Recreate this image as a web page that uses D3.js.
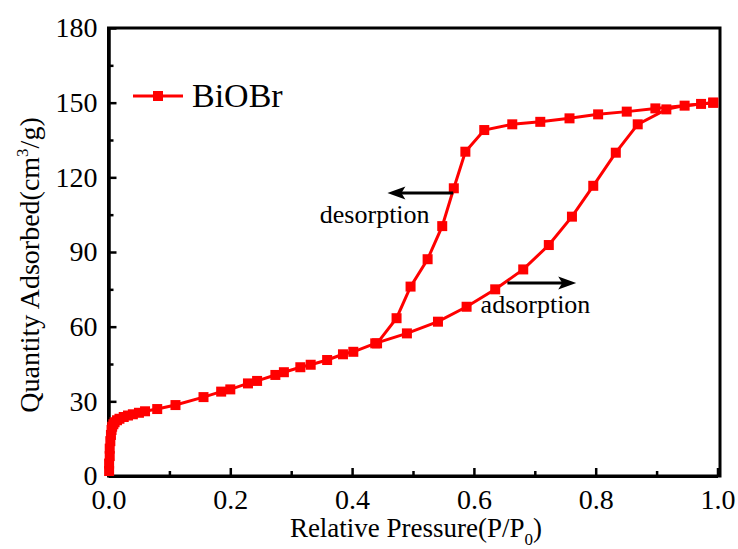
<!DOCTYPE html>
<html>
<head>
<meta charset="utf-8">
<script src="https://cdn.jsdelivr.net/npm/d3@7"></script>
<style>
body { margin: 0; background: #fff; }
text { font-family: "Liberation Serif", "Times New Roman", serif; fill: #000; }
</style>
</head>
<body>
<div id="chart-area"></div>
<script>
// adsorption branch (relative pressure, quantity adsorbed)
var adsP = [0.001, 0.001, 0.002, 0.002, 0.003, 0.004, 0.005, 0.006, 0.008, 0.010, 0.014, 0.018, 0.025, 0.032, 0.040, 0.050, 0.060, 0.080, 0.110,
	0.156, 0.185, 0.200, 0.229, 0.244, 0.274, 0.288, 0.315, 0.332, 0.359, 0.385, 0.402, 0.438,
	0.490, 0.541, 0.588, 0.635, 0.681, 0.723, 0.761, 0.796, 0.833, 0.869, 0.916, 0.946, 0.973, 0.993];
var adsV = [2, 5, 8, 11, 14, 16.5, 18.5, 19.8, 20.8, 21.6, 22.4, 23.0, 23.7, 24.3, 24.8, 25.4, 26.0, 26.9, 28.5,
	31.7, 33.9, 34.8, 37.2, 38.2, 40.6, 41.7, 43.7, 44.7, 46.6, 48.9, 49.9, 53.3,
	57.3, 62.0, 68.0, 75.0, 83.0, 92.8, 104.2, 116.6, 129.9, 141.3, 147.3, 148.8, 149.5, 150.0];

// desorption branch
var desP = [0.993, 0.898, 0.851, 0.804, 0.757, 0.709, 0.663, 0.617, 0.586, 0.567, 0.548, 0.524, 0.496, 0.473, 0.441];
var desV = [150.0, 147.7, 146.4, 145.3, 143.7, 142.3, 141.3, 139.0, 130.3, 115.6, 100.4, 87.1, 76.1, 63.4, 53.3];

var xTicks = [0, 0.2, 0.4, 0.6, 0.8, 1.0];
var xMinor = [0.1, 0.3, 0.5, 0.7, 0.9];
var yTicks = [0, 30, 60, 90, 120, 150, 180];
var yMinor = [15, 45, 75, 105, 135, 165];

var seriesName = "BiOBr";

var W = 738, H = 549;
var plot = { left: 108.5, right: 720, top: 28, bottom: 476 };

var x = d3.scaleLinear().domain([0, 1]).range([plot.left, 717.5]);
var y = d3.scaleLinear().domain([0, 180]).range([plot.bottom, plot.top]);

var svg = d3.select("#chart-area").append("svg")
	.attr("width", W)
	.attr("height", H);

// frame
svg.append("rect")
	.attr("x", plot.left)
	.attr("y", plot.top)
	.attr("width", plot.right - plot.left)
	.attr("height", plot.bottom - plot.top)
	.attr("fill", "none")
	.attr("stroke", "#000")
	.attr("stroke-width", 3);

var xAxis = d3.axisBottom(x)
	.tickValues(xTicks)
	.tickSizeInner(-8)
	.tickSizeOuter(0)
	.tickPadding(13)
	.tickFormat(d3.format(".1f"));

svg.append("g")
	.attr("class", "x-axis")
	.attr("transform", "translate(0, " + plot.bottom + ")")
	.call(xAxis);

svg.append("g")
	.attr("transform", "translate(0, " + plot.bottom + ")")
	.call(d3.axisBottom(x).tickValues(xMinor).tickSizeInner(-5).tickSizeOuter(0).tickFormat(""));

var yAxis = d3.axisLeft(y)
	.tickValues(yTicks)
	.tickSizeInner(-8)
	.tickSizeOuter(0)
	.tickPadding(11);

svg.append("g")
	.attr("class", "y-axis")
	.attr("transform", "translate(" + plot.left + ", 0)")
	.call(yAxis);

svg.append("g")
	.attr("transform", "translate(" + plot.left + ", 0)")
	.call(d3.axisLeft(y).tickValues(yMinor).tickSizeInner(-5).tickSizeOuter(0).tickFormat(""));

svg.selectAll(".domain").attr("stroke", "#000").attr("stroke-width", 3);
svg.selectAll(".tick line").attr("stroke", "#000").attr("stroke-width", 2.5);
svg.selectAll(".tick text")
	.attr("font-size", "28px")
	.attr("font-family", "Liberation Serif")
	.attr("fill", "#000");

// axis titles
var xt = svg.append("text")
	.attr("x", 416)
	.attr("y", 537)
	.attr("font-size", "27px")
	.attr("text-anchor", "middle");
xt.append("tspan").text("Relative Pressure(P/P");
xt.append("tspan").attr("font-size", "17px").attr("dy", 8).text("0");
xt.append("tspan").attr("dy", -8).text(")");

var yt = svg.append("text")
	.attr("transform", "translate(39, 265) rotate(-90)")
	.attr("font-size", "28px")
	.attr("text-anchor", "middle");
yt.append("tspan").text("Quantity Adsorbed(cm");
yt.append("tspan").attr("font-size", "17px").attr("dy", -11).text("3");
yt.append("tspan").attr("dy", 11).text("/g)");

// series
var ads = adsP.map(function(p, i){ return [p, adsV[i]]; });
var des = desP.map(function(p, i){ return [p, desV[i]]; });

var line = d3.line()
	.x(function(d){ return x(d[0]); })
	.y(function(d){ return y(d[1]); });

[ads, des].forEach(function(data){
	svg.append("path")
		.datum(data)
		.attr("d", line)
		.attr("fill", "none")
		.attr("stroke", "#ff0000")
		.attr("stroke-width", 3);
});

var ms = 10;
svg.selectAll("rect.pt")
	.data(ads.concat(des))
	.enter()
	.append("rect")
		.attr("class", "pt")
		.attr("x", function(d){ return x(d[0]) - ms / 2; })
		.attr("y", function(d){ return y(d[1]) - ms / 2; })
		.attr("width", ms)
		.attr("height", ms)
		.attr("fill", "#ff0000");

// legend
var lg = svg.append("g").attr("transform", "translate(133, 96)");
lg.append("line")
	.attr("x1", 0).attr("x2", 50)
	.attr("y1", 0).attr("y2", 0)
	.attr("stroke", "#ff0000")
	.attr("stroke-width", 3);
lg.append("rect")
	.attr("x", 25 - ms / 2).attr("y", -ms / 2)
	.attr("width", ms).attr("height", ms)
	.attr("fill", "#ff0000");
lg.append("text")
	.attr("x", 59)
	.attr("y", 11)
	.attr("font-size", "34px")
	.text(seriesName);

// annotations with arrows
function arrow(p1, p2, v){
	var x1 = x(p1), x2 = x(p2), yy = y(v);
	var dir = x2 > x1 ? 1 : -1;
	svg.append("line")
		.attr("x1", x1).attr("x2", x2 - dir * 10)
		.attr("y1", yy).attr("y2", yy)
		.attr("stroke", "#000")
		.attr("stroke-width", 3);
	svg.append("path")
		.attr("d", "M" + x2 + "," + yy +
			"L" + (x2 - dir * 18) + "," + (yy - 6.5) +
			"L" + (x2 - dir * 14) + "," + yy +
			"L" + (x2 - dir * 18) + "," + (yy + 6.5) + "Z")
		.attr("fill", "#000");
}

arrow(0.566, 0.458, 113.7);
arrow(0.655, 0.768, 77.5);

svg.append("text")
	.attr("x", x(0.347))
	.attr("y", y(101.6))
	.attr("font-size", "26px")
	.text("desorption");

svg.append("text")
	.attr("x", x(0.611))
	.attr("y", y(65.5))
	.attr("font-size", "26px")
	.text("adsorption");
</script>
</body>
</html>
